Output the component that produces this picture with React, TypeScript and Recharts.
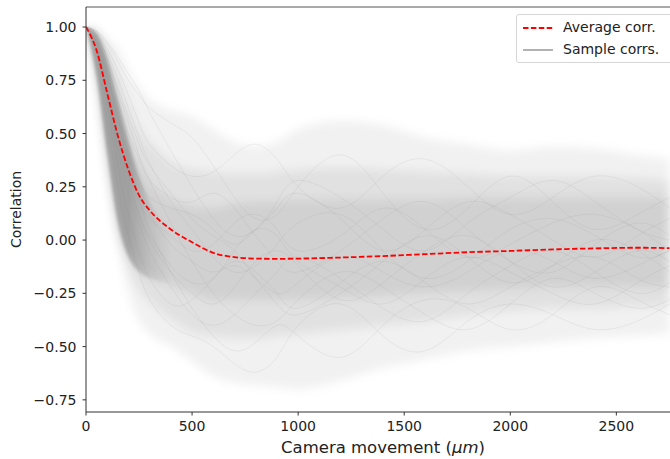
import { Line, Area, XAxis, YAxis, ReferenceLine, Legend, ComposedChart, Label } from "recharts";

const xs = [0, 50, 100, 150, 200, 250, 300, 400, 500, 600, 700, 800, 900, 1000, 1200, 1400, 1600, 1800, 2000, 2200, 2400, 2600, 2750];

const average = [1, 0.89, 0.69, 0.49, 0.33, 0.21, 0.14, 0.05, -0.01, -0.06, -0.08, -0.087, -0.088, -0.087, -0.082, -0.075, -0.066, -0.057, -0.051, -0.044, -0.039, -0.036, -0.038];

// envelopes of the sample cloud (faint edge, medium, dense core)
const outerHi = [1, 0.99, 0.95, 0.9, 0.8, 0.72, 0.66, 0.61, 0.58, 0.52, 0.46, 0.44, 0.46, 0.52, 0.56, 0.54, 0.48, 0.45, 0.42, 0.44, 0.43, 0.4, 0.38];
const outerLo = [1, 0.7, 0.28, -0.02, -0.25, -0.38, -0.44, -0.5, -0.57, -0.64, -0.67, -0.68, -0.69, -0.7, -0.66, -0.6, -0.56, -0.52, -0.5, -0.48, -0.46, -0.45, -0.44];
const midHi = [1, 0.98, 0.9, 0.78, 0.64, 0.53, 0.46, 0.37, 0.33, 0.32, 0.31, 0.31, 0.32, 0.33, 0.34, 0.33, 0.32, 0.31, 0.3, 0.3, 0.3, 0.29, 0.28];
const midLo = [1, 0.74, 0.36, 0.04, -0.12, -0.23, -0.29, -0.37, -0.43, -0.45, -0.46, -0.46, -0.45, -0.44, -0.42, -0.4, -0.38, -0.35, -0.33, -0.32, -0.32, -0.31, -0.31];
const coreHi = [1, 0.96, 0.82, 0.64, 0.47, 0.36, 0.28, 0.19, 0.16, 0.15, 0.17, 0.18, 0.18, 0.19, 0.19, 0.19, 0.19, 0.2, 0.2, 0.2, 0.2, 0.2, 0.2];
const coreLo = [1, 0.77, 0.4, 0.08, -0.06, -0.13, -0.17, -0.21, -0.25, -0.28, -0.28, -0.28, -0.28, -0.28, -0.27, -0.26, -0.25, -0.24, -0.23, -0.22, -0.22, -0.22, -0.22];
// the very dense start, up to 400 µm (fades out to the right)
const headHi = [1, 0.97, 0.85, 0.66, 0.47, 0.3, 0.18, 0.05];
const headLo = [1, 0.76, 0.4, 0.08, -0.08, -0.15, -0.18, -0.2];

// a few individual sample correlations
const sampleCurves = [
  [1, 0.97, 0.88, 0.76, 0.62, 0.48, 0.36, 0.18, 0.05, -0.08, -0.15, -0.12, -0.02, 0.08, 0.12, -0.05, -0.18, -0.1, 0.05, 0.1, 0.02, -0.08, -0.05],
  [1, 0.92, 0.72, 0.5, 0.3, 0.12, 0.0, -0.15, -0.25, -0.3, -0.22, -0.1, -0.05, -0.12, -0.28, -0.2, -0.05, 0.02, -0.1, -0.22, -0.15, -0.05, -0.1],
  [1, 0.98, 0.92, 0.84, 0.75, 0.68, 0.62, 0.55, 0.48, 0.35, 0.2, 0.1, 0.12, 0.25, 0.4, 0.22, 0.05, 0.15, 0.3, 0.18, 0.05, 0.12, 0.2],
  [1, 0.85, 0.55, 0.25, 0.02, -0.15, -0.28, -0.4, -0.45, -0.5, -0.58, -0.62, -0.55, -0.4, -0.3, -0.45, -0.52, -0.38, -0.3, -0.35, -0.42, -0.38, -0.3],
  [1, 0.95, 0.82, 0.66, 0.5, 0.38, 0.28, 0.2, 0.18, 0.22, 0.15, 0.02, -0.1, -0.15, -0.05, 0.1, 0.18, 0.05, -0.1, -0.15, -0.02, 0.08, 0.02],
  [1, 0.9, 0.68, 0.45, 0.26, 0.12, 0.02, -0.12, -0.2, -0.18, -0.05, 0.05, 0.02, -0.1, -0.22, -0.3, -0.18, -0.08, -0.15, -0.25, -0.3, -0.2, -0.12],
  [1, 0.96, 0.85, 0.7, 0.55, 0.4, 0.28, 0.08, -0.1, -0.25, -0.35, -0.4, -0.38, -0.28, -0.15, -0.22, -0.35, -0.42, -0.3, -0.18, -0.25, -0.32, -0.28],
  [1, 0.93, 0.77, 0.58, 0.4, 0.28, 0.2, 0.15, 0.12, 0.05, -0.02, 0.05, 0.15, 0.22, 0.1, -0.05, 0.05, 0.18, 0.12, 0.0, -0.08, 0.02, 0.1],
  [1, 0.88, 0.62, 0.35, 0.12, -0.05, -0.18, -0.3, -0.28, -0.18, -0.1, -0.15, -0.25, -0.32, -0.2, -0.1, -0.2, -0.3, -0.22, -0.12, -0.08, -0.18, -0.22],
  [1, 0.97, 0.9, 0.8, 0.68, 0.55, 0.45, 0.35, 0.3, 0.32, 0.4, 0.45, 0.38, 0.25, 0.15, 0.3, 0.38, 0.25, 0.12, 0.2, 0.3, 0.25, 0.15],
  [1, 0.94, 0.78, 0.58, 0.38, 0.2, 0.05, -0.15, -0.32, -0.45, -0.52, -0.48, -0.4, -0.45, -0.55, -0.4, -0.28, -0.32, -0.42, -0.35, -0.22, -0.28, -0.35],
  [1, 0.91, 0.7, 0.48, 0.3, 0.18, 0.1, 0.02, -0.05, -0.02, 0.08, 0.12, 0.05, -0.05, 0.02, 0.15, 0.05, -0.08, -0.02, 0.08, 0.12, 0.05, -0.05],
  [1, 0.96, 0.86, 0.72, 0.58, 0.45, 0.35, 0.22, 0.1, 0.02, -0.05, -0.18, -0.3, -0.35, -0.25, -0.1, 0.02, -0.08, -0.2, -0.12, 0.0, -0.05, -0.15],
  [1, 0.89, 0.66, 0.42, 0.22, 0.08, -0.05, -0.22, -0.35, -0.4, -0.35, -0.25, -0.15, -0.08, -0.18, -0.32, -0.38, -0.25, -0.12, -0.05, -0.15, -0.25, -0.2],
  [1, 0.98, 0.93, 0.86, 0.78, 0.7, 0.6, 0.42, 0.25, 0.1, 0.02, 0.05, 0.18, 0.28, 0.2, 0.05, -0.05, 0.08, 0.2, 0.28, 0.18, 0.05, 0.0],
  [1, 0.92, 0.74, 0.54, 0.36, 0.22, 0.12, -0.02, -0.1, -0.15, -0.12, -0.18, -0.25, -0.2, -0.08, -0.15, -0.22, -0.15, -0.05, -0.1, -0.18, -0.12, -0.05],
];

const xTicks = [0, 500, 1000, 1500, 2000, 2500];
const yTicks = [-0.75, -0.5, -0.25, 0, 0.25, 0.5, 0.75, 1];
const legendLabels = ["Average corr.", "Sample corrs."];

const rows = xs.map((x, i) => {
  const row: Record<string, any> = {
    x,
    avg: average[i],
    outer: [outerLo[i], outerHi[i]],
    mid: [midLo[i], midHi[i]],
    core: [coreLo[i], coreHi[i]],
    head: i < headHi.length ? [headLo[i], headHi[i]] : null,
  };
  sampleCurves.forEach((s, k) => (row["s" + k] = s[i]));
  return row;
});

const font = "'DejaVu Sans', sans-serif";
const yMin = -0.807;
const yMax = 1.094;

const fmt = (v: number) => (v < 0 ? "\u2212" : "") + Math.abs(v).toFixed(2);

function LegendBox() {
  return (
    <div style={{ background: "rgba(255,255,255,0.8)", border: "1px solid #d6d6d6", borderRadius: 3, width: 160, height: 47, fontFamily: font, fontSize: 14, color: "#222", position: "relative" }}>
      <svg width={40} height={47} style={{ position: "absolute", left: 0, top: 0 }}>
        <line x1={6} x2={36} y1={13} y2={13} stroke="#f00" strokeWidth={1.8} strokeDasharray="5.5 2.4" />
        <line x1={6} x2={36} y1={35} y2={35} stroke="#aaa" strokeWidth={1.8} />
      </svg>
      <div style={{ position: "absolute", left: 46, top: 4, lineHeight: "17px" }}>{legendLabels[0]}</div>
      <div style={{ position: "absolute", left: 46, top: 26, lineHeight: "17px" }}>{legendLabels[1]}</div>
    </div>
  );
}

function XTitle({ viewBox }: any) {
  const vb = viewBox || { x: 86, y: 412, width: 594, height: 47 };
  return (
    <text x={vb.x + vb.width / 2} y={vb.y + vb.height - 6} textAnchor="middle" fill="#222" fontSize={16.5} fontFamily={font}>
      Camera movement (<tspan fontStyle="italic">μm</tspan>)
    </text>
  );
}

export default function App() {
  return (
    <div style={{ position: "absolute", left: 0, top: 0, width: 670, height: 459, overflow: "hidden", background: "#fff" }}>
      <ComposedChart width={680} height={459} data={rows} margin={{ top: 7, right: 0, bottom: 0, left: 0 }}>
        <defs>
          <filter id="soft" x="-10%" y="-10%" width="120%" height="120%">
            <feGaussianBlur stdDeviation="5" />
          </filter>
          <filter id="softer" x="-10%" y="-10%" width="120%" height="120%">
            <feGaussianBlur stdDeviation="1.5" />
          </filter>
          <linearGradient id="headFade" x1="0" y1="0" x2="1" y2="0">
            <stop offset="0%" stopColor="#000" stopOpacity={0.27} />
            <stop offset="50%" stopColor="#000" stopOpacity={0.23} />
            <stop offset="75%" stopColor="#000" stopOpacity={0.09} />
            <stop offset="100%" stopColor="#000" stopOpacity={0} />
          </linearGradient>
        </defs>
        <Area dataKey="outer" type="monotone" stroke="none" fill="#000" fillOpacity={0.055} filter="url(#soft)" isAnimationActive={false} activeDot={false} />
        <Area dataKey="mid" type="monotone" stroke="none" fill="#000" fillOpacity={0.065} filter="url(#soft)" isAnimationActive={false} activeDot={false} />
        <Area dataKey="core" type="monotone" stroke="none" fill="#000" fillOpacity={0.07} filter="url(#soft)" isAnimationActive={false} activeDot={false} />
        <Area dataKey="head" type="monotone" stroke="none" fill="url(#headFade)" fillOpacity={1} filter="url(#softer)" isAnimationActive={false} activeDot={false} />
        {sampleCurves.map((_, k) => (
          <Line key={k} dataKey={"s" + k} type="natural" stroke="#888" strokeOpacity={0.12} strokeWidth={1} dot={false} activeDot={false} isAnimationActive={false} />
        ))}
        <Line dataKey="avg" type="monotone" stroke="#f00" strokeWidth={1.8} strokeDasharray="5.5 2.4" dot={false} activeDot={false} isAnimationActive={false} />
        <ReferenceLine y={yMax} stroke="#555" strokeWidth={1} />
        <XAxis dataKey="x" type="number" domain={[0, 2800]} ticks={xTicks} allowDataOverflow height={47} tickSize={3.5} tickMargin={6} stroke="#333" tick={{ fill: "#222", fontSize: 14, fontFamily: font }}>
          <Label content={XTitle} position="insideBottom" />
        </XAxis>
        <YAxis type="number" domain={[yMin, yMax]} ticks={yTicks} allowDataOverflow width={86} tickSize={3.5} tickMargin={6} stroke="#333" tickFormatter={fmt} tick={{ fill: "#222", fontSize: 14, fontFamily: font }}>
          <Label value="Correlation" angle={-90} position="insideLeft" offset={16} style={{ fill: "#222", fontSize: 14, fontFamily: font, textAnchor: "middle" }} />
        </YAxis>
        <Legend layout="vertical" align="center" verticalAlign="middle" content={() => <LegendBox />} wrapperStyle={{ left: 516, top: 14, width: 170, height: 49 }} />
      </ComposedChart>
    </div>
  );
}
